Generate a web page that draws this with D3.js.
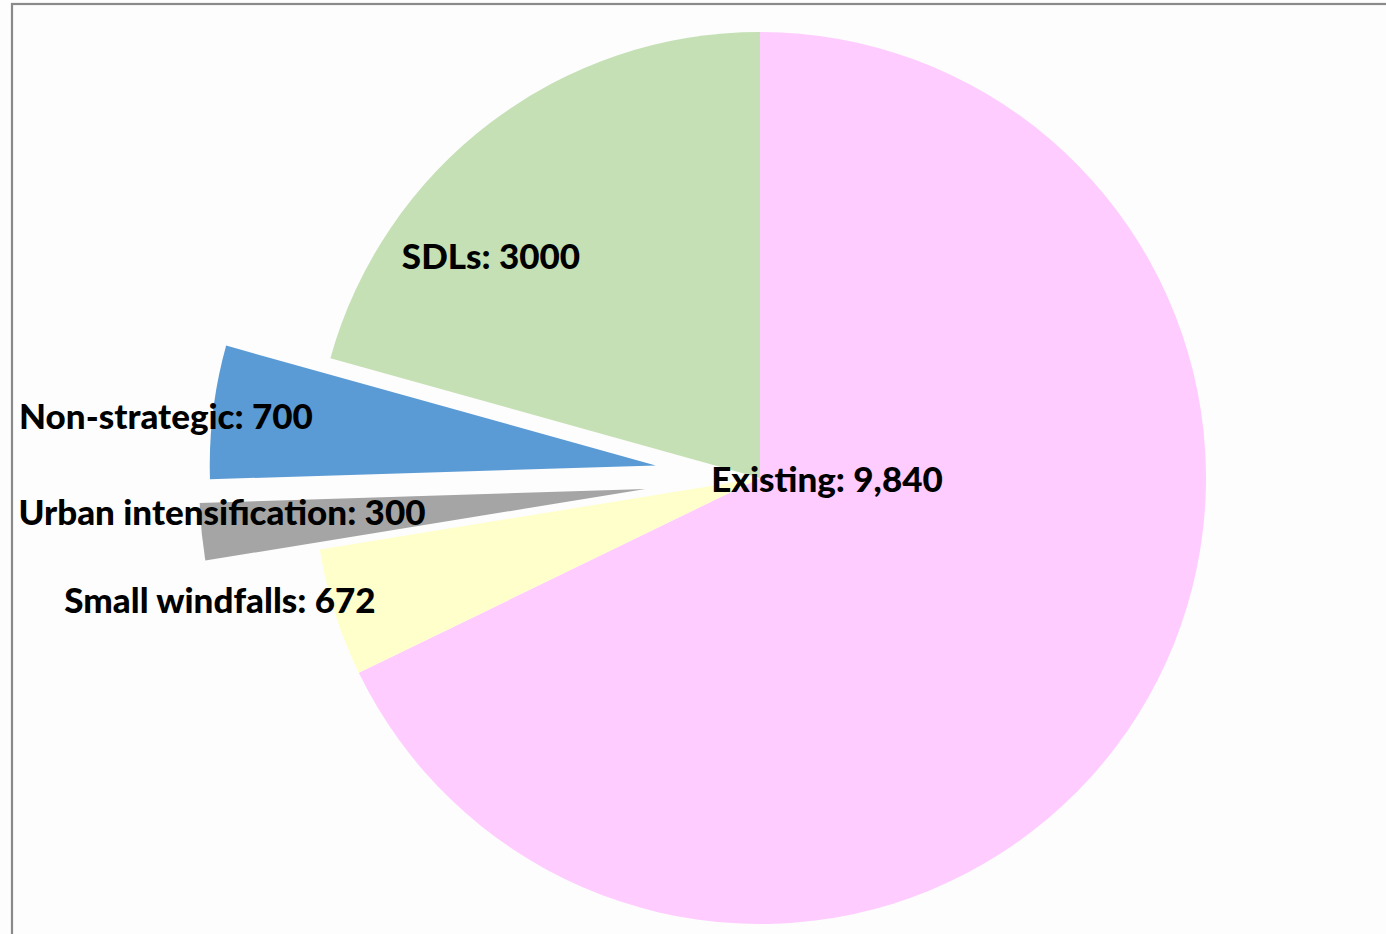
<!DOCTYPE html>
<html><head><meta charset="utf-8">
<script src="https://cdn.jsdelivr.net/npm/d3@7"></script>
<style>html,body{margin:0;padding:0;background:#fdfdfd;}svg{display:block;}</style>
</head><body>
<svg id="c" width="1386" height="934"></svg>
<script>
const categories = ["Existing", "Small windfalls", "Urban intensification", "Non-strategic", "SDLs"];
const values = [9840, 672, 300, 700, 3000];
const valueLabels = ["9,840", "672", "300", "700", "3000"];
const colors = ["#FFCCFF", "#FFFFCC", "#A5A5A5", "#5B9BD5", "#C5E0B4"];
const explode = [0, 0, 115, 105, 0];
// label placement (layout, not data)
const labelPos = [[827, 492], [220, 613], [222, 525], [166, 429], [491, 269]];

const svg = d3.select("#c");
svg.append("rect").attr("x", 12).attr("y", 4).attr("width", 1400).attr("height", 1000)
  .attr("fill", "#fdfdfd").attr("stroke", "#8a8a8a").attr("stroke-width", 2.2);

const cx = 760, cy = 478, R = 446;
const pie = d3.pie().sort(null).value(d => d.v)(values.map((v, i) => ({v, i})));
const arc = d3.arc().innerRadius(0).outerRadius(R);
const g = svg.append("g").attr("transform", `translate(${cx},${cy})`);
g.selectAll("path").data(pie).join("path")
  .attr("d", arc)
  .attr("fill", d => colors[d.data.i])
  .attr("transform", d => {
    const m = (d.startAngle + d.endAngle) / 2, e = explode[d.data.i];
    return `translate(${e * Math.sin(m)},${-e * Math.cos(m)})`;
  });

svg.selectAll("text.lbl").data(categories).join("text")
  .attr("class", "lbl")
  .attr("x", (d, i) => labelPos[i][0]).attr("y", (d, i) => labelPos[i][1])
  .attr("text-anchor", "middle")
  .attr("font-family", "Lato").attr("font-weight", 900).attr("font-size", 35)
  .attr("fill", "#000")
  .text((d, i) => `${d}: ${valueLabels[i]}`);
</script>
</body></html>
